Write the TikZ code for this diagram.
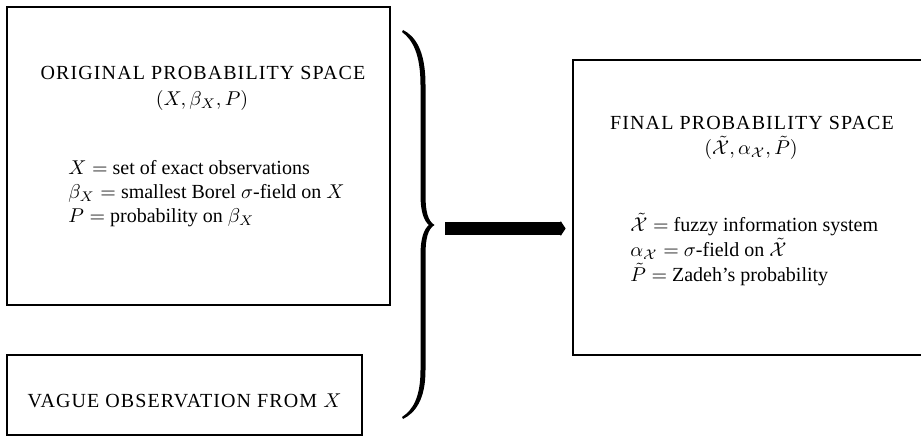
\documentclass[tikz,border=0pt]{standalone}
\usepackage{fontspec}
\setmainfont{Liberation Serif}
\newfontfamily\capsfont[LetterSpace=5.5]{Liberation Serif}
\usetikzlibrary{arrows.meta}
\newcommand{\fx}{\smash{\tilde{\mathcal{X}}}\vphantom{X}}
\newcommand{\fp}{\smash{\tilde{P}}\vphantom{P}}
\tikzset{
  box/.style={draw, line width=1.4pt, rectangle, inner sep=0pt},
  title/.style={font=\capsfont\fontsize{10}{12}\selectfont, anchor=base, inner sep=0pt},
  sub/.style={font=\fontsize{10}{12}\selectfont, anchor=base, inner sep=0pt},
  body/.style={font=\fontsize{10}{12}\selectfont, anchor=base west, inner sep=0pt},
  bigarrow/.style={line width=6.5pt, -{Triangle[length=2.5pt,width=7.5pt]}, shorten >=3pt},
}
\begin{document}
\begin{tikzpicture}[x=0.5pt,y=-0.5pt]
\useasboundingbox (0,0) rectangle (921,443);
\clip (0,0) rectangle (921,443);

% boxes
\node[box, minimum width=191.5pt, minimum height=149pt] (orig) at (198.5,156) {};
\node[box, minimum width=177.5pt, minimum height=40pt] (vague) at (184.5,395) {};
\node[box, minimum width=183.5pt, minimum height=147.5pt] (final) at (756.5,207.5) {};

% left box texts
\node[title] (origtitle) at (203,80) {ORIGINAL PROBABILITY SPACE};
\node[sub] (origsub) at (202,106) {$(X,\beta_X,P)$};
\node[body] (o1) at (68,175) {$X=$ set of exact observations};
\node[body] (o2) at (68,199) {$\beta_X=$ smallest Borel $\sigma$-field on $X$};
\node[body] (o3) at (68,223) {$P=$ probability on $\beta_X$};

% vague box text
\node[title] (vaguetitle) at (184.5,407) {VAGUE OBSERVATION FROM $X$};

% right box texts
\node[title] (finaltitle) at (752,130) {FINAL PROBABILITY SPACE};
\node[sub] (finalsub) at (751,155) {$(\fx,\alpha_{\mathcal{X}},\fp)$};
\node[body] (f1) at (630,232) {$\fx=$ fuzzy information system};
\node[body] (f2) at (630,257) {$\alpha_{\mathcal{X}}=$ $\sigma$-field on $\fx$};
\node[body] (f3) at (630,282) {$\fp=$ Zadeh's probability};

% brace
\fill (403,30) .. controls (415,36) and (425.5,50) .. (425.5,85)
  -- (425.5,195) .. controls (425.5,212) and (428,221) .. (434.5,225)
  .. controls (428,229) and (425.5,238) .. (425.5,255)
  -- (425.5,370) .. controls (425.5,400) and (415,413) .. (403,419)
  -- (402,417) .. controls (413,410) and (420.5,397) .. (420.5,370)
  -- (420.5,255) .. controls (420.5,238) and (424,229) .. (429,225)
  .. controls (424,221) and (420.5,212) .. (420.5,195)
  -- (420.5,85) .. controls (420.5,55) and (413,40) .. (402,32) -- cycle;
\coordinate (bracetip) at (445,228.5);

% arrow
\draw[bigarrow] (bracetip) -- (final.west |- bracetip);
\end{tikzpicture}
\end{document}
